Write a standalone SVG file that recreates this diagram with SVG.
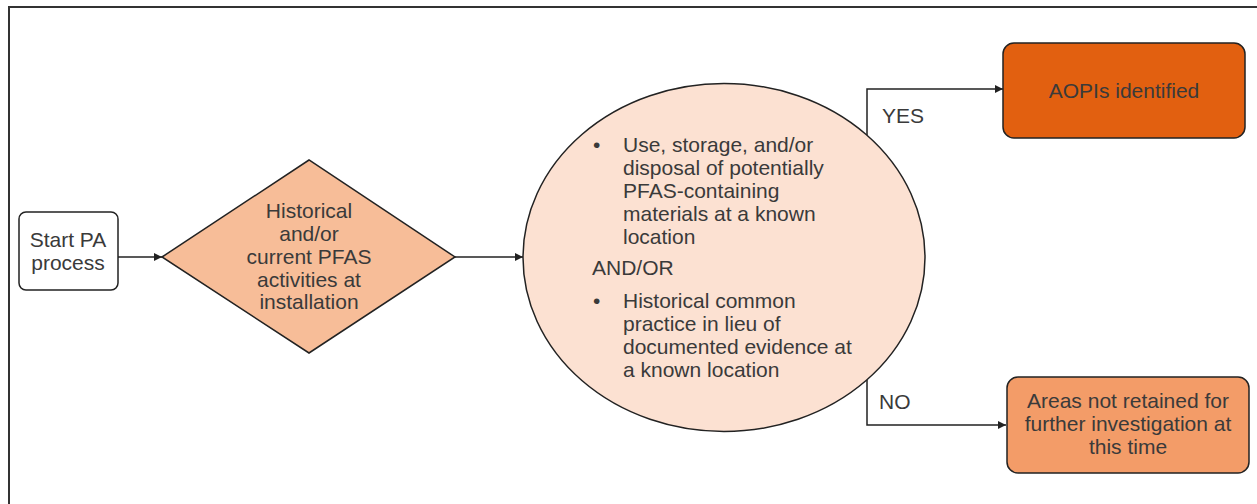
<svg xmlns="http://www.w3.org/2000/svg" width="1257" height="504" viewBox="0 0 1257 504">
<defs>
<marker id="ah" viewBox="0 0 10 10" refX="10" refY="5" markerWidth="8" markerHeight="8" markerUnits="userSpaceOnUse" orient="auto">
<path d="M0,0 L10,5 L0,10 z" fill="#222"/>
</marker>
<style>
text{font-family:"Liberation Sans",Arial,sans-serif;fill:#3a3a3a;font-size:21px}
.c{text-anchor:middle}
.edge{fill:none;stroke:#222;stroke-width:1.5}
.node{stroke:#222;stroke-width:1.5}
</style>
</defs>
<rect width="1257" height="504" fill="#fff"/>
<path d="M9,504 V7 H1257" fill="none" stroke="#333" stroke-width="2"/>
<g id="connectors">
<line class="edge" x1="118" y1="257" x2="162" y2="257" marker-end="url(#ah)"/>
<line class="edge" x1="455" y1="257" x2="523" y2="257" marker-end="url(#ah)"/>
<polyline class="edge" points="867,135 867,89 1003,89" marker-end="url(#ah)"/>
<polyline class="edge" points="867,380 867,425 1006,425" marker-end="url(#ah)"/>
<text x="882" y="123">YES</text>
<text x="879" y="409">NO</text>
</g>
<g id="start">
<rect class="node" x="19" y="212" width="99" height="78" rx="7" fill="#fff"/>
<text class="c" x="68" y="247">Start PA</text>
<text class="c" x="68" y="270">process</text>
</g>
<g id="decision">
<polygon class="node" points="162,257 309,160 455,257 309,353" fill="#f7bd98"/>
<text class="c" x="309" y="218">Historical</text>
<text class="c" x="309" y="241">and/or</text>
<text class="c" x="309" y="264">current PFAS</text>
<text class="c" x="309" y="287">activities at</text>
<text class="c" x="309" y="309">installation</text>
</g>
<g id="criteria">
<ellipse class="node" cx="724" cy="257.5" rx="201" ry="174" fill="#fce1d2"/>
<text x="593" y="152">•</text>
<text x="623" y="152">Use, storage, and/or</text>
<text x="623" y="175">disposal of potentially</text>
<text x="623" y="198">PFAS-containing</text>
<text x="623" y="221">materials at a known</text>
<text x="623" y="244">location</text>
<text x="592" y="275">AND/OR</text>
<text x="593" y="308">•</text>
<text x="623" y="308">Historical common</text>
<text x="623" y="331">practice in lieu of</text>
<text x="623" y="354">documented evidence at</text>
<text x="623" y="377">a known location</text>
</g>
<g id="aopis">
<rect class="node" x="1003" y="43" width="242" height="95" rx="11" fill="#e26010"/>
<text class="c" x="1124" y="98">AOPIs identified</text>
</g>
<g id="not-retained">
<rect class="node" x="1007" y="377" width="242" height="96" rx="11" fill="#f39c68"/>
<text class="c" x="1128" y="408">Areas not retained for</text>
<text class="c" x="1128" y="431">further investigation at</text>
<text class="c" x="1128" y="454">this time</text>
</g>
</svg>
